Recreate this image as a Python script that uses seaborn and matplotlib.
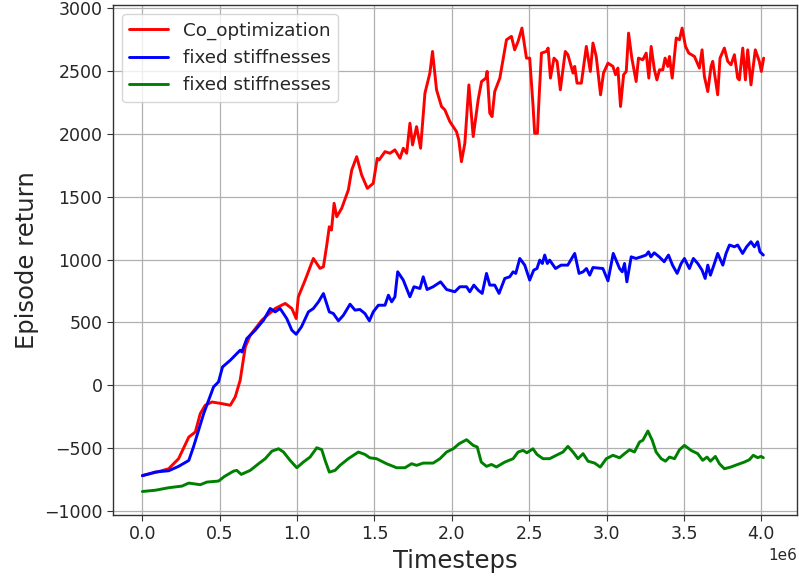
import numpy as np
import pandas as pd
import matplotlib
matplotlib.use("Agg")
import matplotlib.pyplot as plt
import seaborn as sns

# Training curves: timesteps (millions) and episode returns
co_steps = [0.0, 0.08, 0.17, 0.234, 0.30, 0.342, 0.374, 0.406, 0.45, 0.514, 0.568, 0.60, 0.632,
            0.665, 0.697, 0.772, 0.858, 0.923, 0.966, 0.994, 1.008, 1.052, 1.105, 1.148, 1.17,
            1.19, 1.208, 1.222, 1.239, 1.256, 1.288, 1.331, 1.353, 1.385, 1.417, 1.454, 1.492,
            1.518, 1.53, 1.568, 1.6, 1.632, 1.665, 1.686, 1.708, 1.729, 1.746, 1.772, 1.798,
            1.826, 1.858, 1.875, 1.901, 1.933, 1.955, 1.987, 2.03, 2.045, 2.062, 2.084, 2.11,
            2.138, 2.17, 2.192, 2.22, 2.228, 2.245, 2.26, 2.277, 2.31, 2.353, 2.385, 2.406,
            2.428, 2.453, 2.482, 2.503, 2.525, 2.535, 2.553, 2.563, 2.579, 2.611, 2.622, 2.637,
            2.66, 2.68, 2.701, 2.733, 2.75, 2.783, 2.794, 2.809, 2.837, 2.869, 2.895, 2.912,
            2.933, 2.961, 2.98, 3.009, 3.041, 3.058, 3.073, 3.09, 3.11, 3.127, 3.142, 3.163,
            3.191, 3.206, 3.234, 3.256, 3.273, 3.288, 3.309, 3.325, 3.342, 3.363, 3.378, 3.396,
            3.406, 3.424, 3.45, 3.471, 3.488, 3.51, 3.531, 3.568, 3.6, 3.617, 3.632, 3.654,
            3.675, 3.686, 3.718, 3.733, 3.761, 3.783, 3.804, 3.826, 3.847, 3.858, 3.88, 3.897,
            3.912, 3.933, 3.961, 3.987, 4.0, 4.015]
co_return = [-717, -695, -664, -584, -412, -372, -226, -159, -133, -146, -159, -93, 40,
             305, 398, 518, 611, 651, 611, 531, 704, 837, 1009, 930, 943,
             1102, 1261, 1235, 1448, 1341, 1408, 1554, 1713, 1819, 1673, 1567, 1607,
             1806, 1793, 1859, 1846, 1873, 1806, 1886, 1846, 2085, 1912, 2058, 1886,
             2324, 2484, 2656, 2351, 2218, 2191, 2098, 2018, 1952, 1779, 1926, 2390,
             1979, 2271, 2417, 2444, 2497, 2165, 2138, 2337, 2444, 2749, 2776, 2669,
             2736, 2842, 2603, 2603, 2218, 2005, 2005, 2271, 2643, 2656, 2683, 2444,
             2603, 2577, 2351, 2656, 2630, 2484, 2537, 2404, 2404, 2696, 2497, 2723,
             2616, 2311, 2484, 2563, 2537, 2471, 2524, 2218, 2471, 2497, 2802, 2603,
             2417, 2603, 2590, 2643, 2444, 2696, 2510, 2430, 2510, 2510, 2603, 2537,
             2616, 2444, 2763, 2749, 2842, 2696, 2643, 2616, 2524, 2669, 2457, 2337,
             2537, 2577, 2311, 2603, 2683, 2577, 2550, 2630, 2444, 2430, 2683, 2430,
             2669, 2390, 2669, 2577, 2497, 2603]

fix1_steps = [0.0, 0.084, 0.17, 0.234, 0.30, 0.33, 0.363, 0.396, 0.428, 0.46, 0.492, 0.518,
              0.568, 0.60, 0.632, 0.643, 0.675, 0.729, 0.783, 0.826, 0.858, 0.89, 0.933,
              0.966, 0.994, 1.028, 1.073, 1.105, 1.138, 1.17, 1.208, 1.234, 1.267, 1.299,
              1.342, 1.374, 1.406, 1.438, 1.467, 1.492, 1.525, 1.568, 1.59, 1.611, 1.632,
              1.65, 1.686, 1.729, 1.755, 1.794, 1.815, 1.84, 1.879, 1.927, 1.966, 1.998,
              2.019, 2.052, 2.095, 2.116, 2.142, 2.17, 2.196, 2.224, 2.245, 2.277, 2.305,
              2.342, 2.374, 2.396, 2.413, 2.439, 2.471, 2.503, 2.529, 2.55, 2.568, 2.585,
              2.6, 2.617, 2.632, 2.67, 2.706, 2.749, 2.794, 2.822, 2.848, 2.87, 2.891,
              2.912, 2.976, 3.009, 3.043, 3.084, 3.101, 3.116, 3.131, 3.159, 3.19, 3.223,
              3.255, 3.271, 3.286, 3.308, 3.34, 3.372, 3.4, 3.426, 3.456, 3.482, 3.503,
              3.535, 3.561, 3.589, 3.617, 3.637, 3.654, 3.671, 3.697, 3.718, 3.751, 3.772,
              3.794, 3.826, 3.847, 3.879, 3.905, 3.933, 3.955, 3.976, 3.991, 4.013]
fix1_return = [-720, -690, -680, -645, -598, -491, -359, -226, -120, -13, 27, 146,
               199, 239, 279, 265, 372, 438, 518, 611, 584, 611, 531,
               438, 406, 465, 584, 611, 664, 730, 584, 571, 513, 557,
               645, 598, 603, 571, 513, 584, 637, 637, 717, 664, 704,
               903, 837, 704, 784, 770, 863, 762, 784, 823, 762, 751,
               744, 784, 784, 744, 797, 757, 731, 890, 797, 797, 731,
               850, 863, 903, 890, 1009, 956, 837, 916, 929, 996, 969,
               1036, 969, 996, 929, 956, 956, 1049, 890, 903, 929, 876,
               937, 929, 831, 1049, 929, 903, 969, 823, 1022, 1009, 1022,
               1036, 1062, 1022, 1054, 1022, 983, 1036, 956, 890, 969, 1009,
               929, 1009, 969, 916, 850, 956, 876, 969, 1049, 956, 1049,
               1116, 1102, 1116, 1049, 1102, 1142, 1102, 1142, 1062, 1036]

fix2_steps = [0.0, 0.084, 0.17, 0.256, 0.30, 0.374, 0.417, 0.492, 0.531, 0.589, 0.61, 0.639,
              0.697, 0.751, 0.794, 0.837, 0.88, 0.912, 0.955, 0.998, 1.04, 1.084, 1.127,
              1.159, 1.181, 1.208, 1.245, 1.277, 1.331, 1.396, 1.438, 1.47, 1.513, 1.578,
              1.643, 1.697, 1.74, 1.772, 1.815, 1.879, 1.923, 1.966, 2.009, 2.047, 2.095,
              2.138, 2.164, 2.19, 2.224, 2.256, 2.288, 2.342, 2.396, 2.428, 2.46, 2.485,
              2.524, 2.55, 2.589, 2.632, 2.675, 2.718, 2.75, 2.783, 2.815, 2.848, 2.88,
              2.923, 2.959, 2.998, 3.041, 3.084, 3.116, 3.148, 3.18, 3.213, 3.234, 3.267,
              3.295, 3.32, 3.353, 3.381, 3.406, 3.439, 3.471, 3.503, 3.546, 3.589, 3.621,
              3.649, 3.671, 3.703, 3.729, 3.761, 3.804, 3.847, 3.89, 3.922, 3.948, 3.976,
              3.998, 4.013]
fix2_return = [-845, -835, -815, -802, -778, -791, -770, -762, -725, -683, -677, -709,
               -677, -624, -584, -524, -505, -531, -598, -656, -611, -571, -497,
               -512, -598, -691, -677, -637, -584, -531, -550, -577, -584, -624,
               -656, -656, -624, -637, -619, -619, -584, -531, -505, -465, -433,
               -478, -491, -611, -645, -630, -650, -611, -584, -531, -518, -537,
               -505, -550, -584, -584, -557, -531, -486, -531, -584, -544, -604,
               -619, -651, -584, -557, -577, -544, -513, -531, -451, -438, -364,
               -438, -531, -584, -604, -571, -584, -513, -478, -518, -544, -597,
               -571, -604, -566, -624, -664, -650, -630, -611, -593, -557, -576,
               -566, -576]

series_labels = ["Co_optimization", "fixed stiffnesses", "fixed stiffnesses"]
series_colors = ["red", "blue", "green"]

sns.set_style("ticks")
plt.rcParams["font.family"] = ["DejaVu Sans"]

fig = plt.figure(figsize=(7.99, 5.78), dpi=100)
ax = fig.add_axes([0.1414, 0.109, 0.856, 0.882])

curves = [(co_steps, co_return), (fix1_steps, fix1_return), (fix2_steps, fix2_return)]
for (steps, ret), label, color in zip(curves, series_labels, series_colors):
    df = pd.DataFrame({"Timesteps": np.asarray(steps) * 1e6, "return": ret})
    sns.lineplot(data=df, x="Timesteps", y="return", ax=ax, color=color,
                 label=label, linewidth=2.1, estimator=None, sort=False)

ax.grid(True, color="#b0b0b0", linewidth=0.9)
ax.set_axisbelow(True)
ax.set_xlabel("Timesteps", fontsize=17.5)
ax.set_ylabel("Episode return", fontsize=17.5)
ax.tick_params(axis="both", labelsize=12.5, length=4, color="#333333")
ax.xaxis.get_offset_text().set_fontsize(11)
for sp in ax.spines.values():
    sp.set_visible(True)
    sp.set_color("#333333")
    sp.set_linewidth(1.0)
ax.set_yticks([-1000, -500, 0, 500, 1000, 1500, 2000, 2500, 3000])
ax.set_xticks(np.arange(0, 4.01, 0.5) * 1e6)
ax.set_xlim(-0.19e6, 4.23e6)
ax.set_ylim(-1032, 3024)

leg = ax.legend(loc="upper left", fontsize=13.2, frameon=True, framealpha=0.8,
                edgecolor="#cccccc", fancybox=True, borderaxespad=0.5,
                handlelength=2.1)

fig.savefig("out.png", dpi=100)
